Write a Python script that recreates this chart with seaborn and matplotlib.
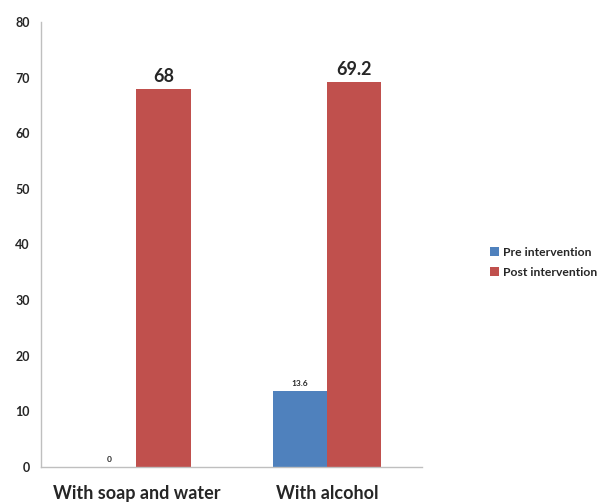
import matplotlib
matplotlib.use("Agg")
import matplotlib.pyplot as plt
import seaborn as sns
import pandas as pd
import numpy as np

categories = ["With soap and water", "With alcohol"]
series = ["Pre intervention", "Post intervention"]
pre_values = [0, 13.6]
post_values = [68, 69.2]
colors = ["#4F81BD", "#C0504D"]
yticks = [0, 10, 20, 30, 40, 50, 60, 70, 80]

df = pd.DataFrame({
    "category": categories * 2,
    "series": [series[0]] * 2 + [series[1]] * 2,
    "value": pre_values + post_values,
})

sns.set_style("white")
plt.rcParams["font.family"] = ["Lato", "DejaVu Sans"]

fig = plt.figure(figsize=(6.04, 5.03), dpi=100)
ax = fig.add_axes([0.068, 0.072, 0.631, 0.884])

sns.barplot(data=df, x="category", y="value", hue="series", palette=colors,
            width=0.57, saturation=1, ax=ax, order=categories, hue_order=series,
            linewidth=0, edgecolor="none")

ax.set_ylim(0, 80)
ax.set_xlim(-0.5, 1.5)
ax.set_yticks(yticks)
ax.set_yticklabels([str(t) for t in yticks], fontsize=9, fontweight="bold")
ax.tick_params(axis="y", length=4, color="#BFBFBF", pad=4)

# x ticks at category boundaries, labels at centres
ax.set_xticks([-0.5, 0.5, 1.5])
ax.set_xticklabels(["", "", ""])
ax.tick_params(axis="x", which="major", length=5, color="#BFBFBF")
ax.set_xticks([0, 1], minor=True)
ax.set_xticklabels(categories, minor=True, fontsize=13, fontweight="bold")
ax.tick_params(axis="x", which="minor", length=0, pad=13)

ax.set_xlabel("")
ax.set_ylabel("")
for s in ["top", "right"]:
    ax.spines[s].set_visible(False)
for s in ["left", "bottom"]:
    ax.spines[s].set_color("#BFBFBF")
    ax.spines[s].set_linewidth(1)

# value labels
for cont, vals in zip(ax.containers, [pre_values, post_values]):
    for bar, v in zip(cont, vals):
        label = f"{v:g}"
        if v >= 50:
            ax.annotate(label, (bar.get_x() + bar.get_width() / 2, bar.get_height()),
                        xytext=(0, 3), textcoords="offset points", ha="center", va="bottom",
                        fontsize=13, fontweight="bold")
        else:
            ax.annotate(label, (bar.get_x() + bar.get_width() / 2, bar.get_height()),
                        xytext=(0, 3), textcoords="offset points", ha="center", va="bottom",
                        fontsize=6, fontweight="bold")

handles, labels = ax.get_legend_handles_labels()
ax.legend(handles, labels, loc="center left", bbox_to_anchor=(1.15, 0.46), frameon=False,
          prop={"size": 8.7, "weight": "bold"}, handlelength=0.7, handleheight=0.7,
          handletextpad=0.35, labelspacing=0.75)

fig.savefig("out.png", dpi=100)
